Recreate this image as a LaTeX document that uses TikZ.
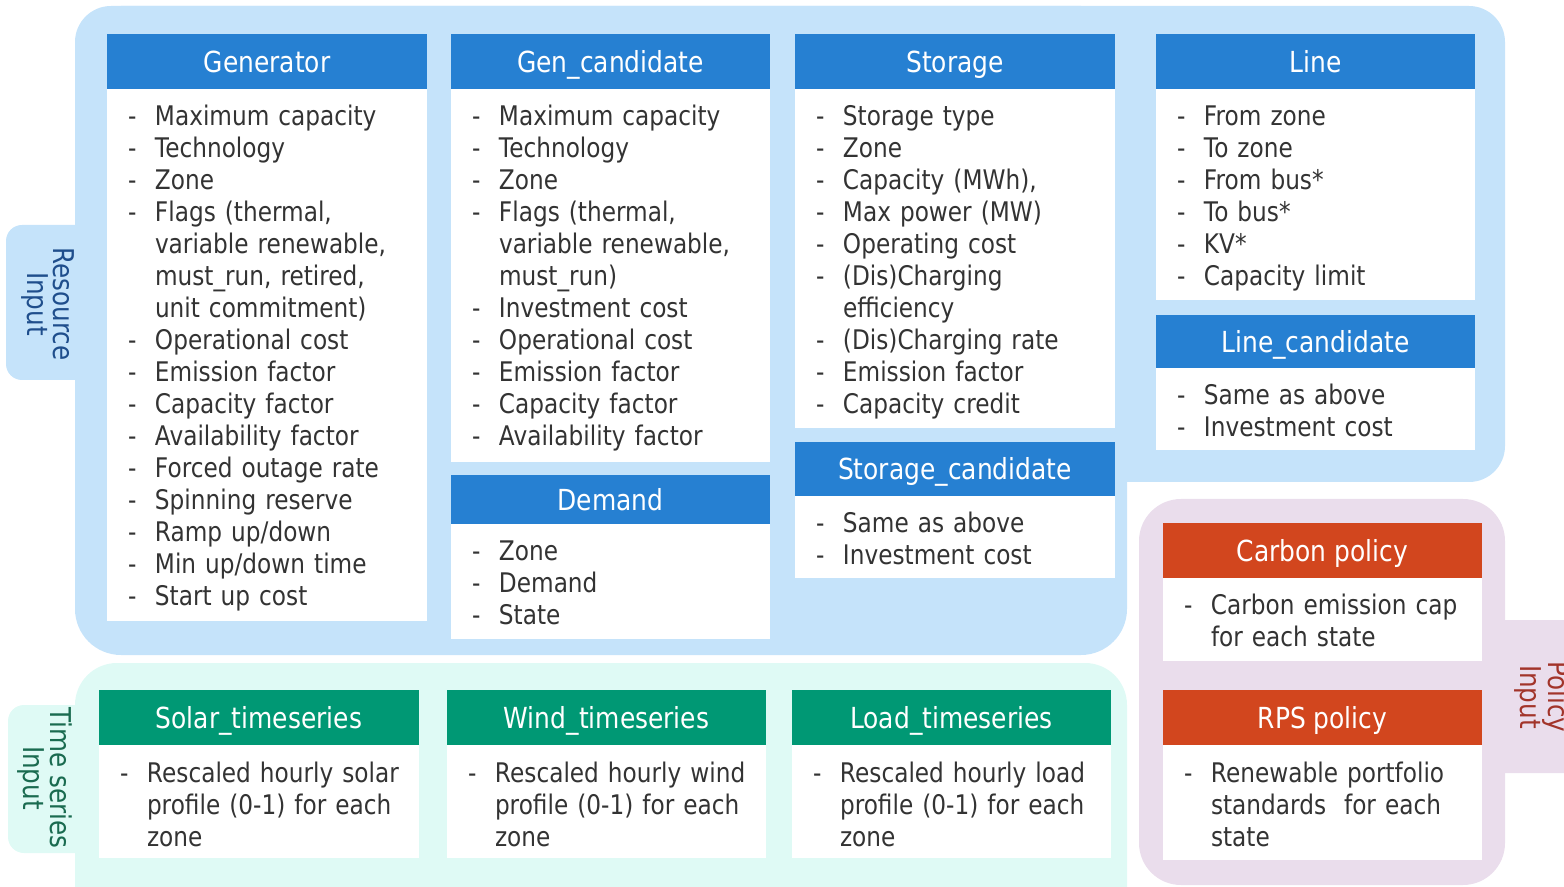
\documentclass[tikz,border=0pt]{standalone}
\usepackage{fontspec}
\setmainfont{DejaVu Sans}[FakeStretch=0.86]
\usetikzlibrary{fit}

\definecolor{regionblue}{HTML}{C5E3FA}
\definecolor{regionmint}{HTML}{DFFAF5}
\definecolor{regionlilac}{HTML}{EADDEC}
\definecolor{headblue}{HTML}{2680D2}
\definecolor{headgreen}{HTML}{009874}
\definecolor{headorange}{HTML}{D2461E}
\definecolor{itemgray}{HTML}{333333}
\definecolor{restext}{HTML}{1F4E8C}
\definecolor{tstext}{HTML}{1A6B50}
\definecolor{poltext}{HTML}{A2342A}

\newdimen\pxu
\pxu=0.75pt

% one list entry: a dash, then the text with a hanging indent
\newcommand\itm[1]{\par\hangindent=27\pxu\hangafter=1\noindent\makebox[27\pxu][l]{\strut-}#1}

\tikzset{
  head/.style={inner sep=0pt, text=white, text height=15.9pt, text depth=0pt,
    font=\fontsize{21.75}{26}\selectfont},
  bluehead/.style={head, fill=headblue},
  greenhead/.style={head, fill=headgreen},
  orangehead/.style={head, fill=headorange},
  cardbody/.style={inner sep=0pt, fill=white},
  itemlist/.style={anchor=north west, inner sep=0pt, text width=280\pxu, align=left,
    text=itemgray, font=\fontsize{20.25}{24}\selectfont},
  tablabel/.style={rotate=-90, align=center, inner sep=0pt,
    font=\fontsize{21.5}{20}\selectfont},
}

% #1 name, #2 left, #3 right, #4 top, #5 header bottom, #6 bottom,
% #7 header style, #8 title, #9 entries
\newcommand\card[9]{%
  \node[cardbody, fit={(#2,#5) (#3,#6)}] (#1body) {};
  \node[#7, minimum width={(#3-#2)*0.75pt}, minimum height={(#5-#4)*0.75pt}]
    (#1) at ({(#2+#3)/2},{(#4+#5)/2}) {#8};
  \node[itemlist] (#1items) at ([xshift=21\pxu, yshift=-5\pxu]#1body.north west) {#9\par};
}

\begin{document}
\begin{tikzpicture}[x=0.75pt, y=-0.75pt]
\useasboundingbox (0,0) rectangle (1564,887);
\clip (0,0) rectangle (1564,887);

% resource input region (L-shaped) and its tab
\fill[regionblue, rounded corners=36\pxu] (75,6) rectangle (1505,482);
\fill[regionblue, rounded corners=46\pxu] (75,6) rectangle (1127,655);
\fill[regionblue, rounded corners=16\pxu] (6,225) rectangle (100,380);

% time series input region and its tab
\fill[regionmint, rounded corners=42\pxu] (75,663) rectangle (1127,940);
\fill[regionmint, rounded corners=16\pxu] (8,705) rectangle (100,853);

% policy input region and its tab
\fill[regionlilac, rounded corners=42\pxu] (1139,499) rectangle (1505,885);
\fill[regionlilac, rounded corners=16\pxu] (1480,620) rectangle (1620,773);

\node[tablabel, text=restext] (restab) at (48,304) {Resource\\Input};
\node[tablabel, text=tstext] (tstab) at (45,778) {Time series\\Input};
\node[tablabel, text=poltext] (poltab) at (1542,697) {Policy\\Input};

% resource cards
\card{gen}{107}{427}{34}{89}{621}{bluehead}{Generator}{%
  \itm{Maximum capacity}\itm{Technology}\itm{Zone}%
  \itm{Flags (thermal,\newline variable renewable,\newline must\_run, retired,\newline unit commitment)}%
  \itm{Operational cost}\itm{Emission factor}\itm{Capacity factor}%
  \itm{Availability factor}\itm{Forced outage rate}\itm{Spinning reserve}%
  \itm{Ramp up/down}\itm{Min up/down time}\itm{Start up cost}}

\card{gencand}{451}{770}{34}{89}{462}{bluehead}{Gen\_candidate}{%
  \itm{Maximum capacity}\itm{Technology}\itm{Zone}%
  \itm{Flags (thermal,\newline variable renewable,\newline must\_run)}%
  \itm{Investment cost}\itm{Operational cost}\itm{Emission factor}%
  \itm{Capacity factor}\itm{Availability factor}}

\card{demand}{451}{770}{475}{524}{639}{bluehead}{Demand}{%
  \itm{Zone}\itm{Demand}\itm{State}}

\card{storage}{795}{1115}{34}{89}{428}{bluehead}{Storage}{%
  \itm{Storage type}\itm{Zone}\itm{Capacity (MWh),}\itm{Max power (MW)}%
  \itm{Operating cost}\itm{(Dis)Charging\newline efficiency}%
  \itm{(Dis)Charging rate}\itm{Emission factor}\itm{Capacity credit}}

\card{storcand}{795}{1115}{442}{496}{578}{bluehead}{Storage\_candidate}{%
  \itm{Same as above}\itm{Investment cost}}

\card{line}{1156}{1475}{34}{89}{300}{bluehead}{Line}{%
  \itm{From zone}\itm{To zone}\itm{From bus*}\itm{To bus*}\itm{KV*}%
  \itm{Capacity limit}}

\card{linecand}{1156}{1475}{315}{368}{450}{bluehead}{Line\_candidate}{%
  \itm{Same as above}\itm{Investment cost}}

% policy cards
\card{carbon}{1163}{1482}{523}{578}{661}{orangehead}{Carbon policy}{%
  \itm{Carbon emission cap\newline for each state}}

\card{rps}{1163}{1482}{690}{745}{860}{orangehead}{RPS policy}{%
  \itm{Renewable portfolio\newline standards\ \ for each\newline state}}

% time series cards
\card{solar}{99}{419}{690}{745}{858}{greenhead}{Solar\_timeseries}{%
  \itm{Rescaled hourly solar\newline profile (0-1) for each\newline zone}}

\card{wind}{447}{766}{690}{745}{858}{greenhead}{Wind\_timeseries}{%
  \itm{Rescaled hourly wind\newline profile (0-1) for each\newline zone}}

\card{load}{792}{1111}{690}{745}{858}{greenhead}{Load\_timeseries}{%
  \itm{Rescaled hourly load\newline profile (0-1) for each\newline zone}}

\end{tikzpicture}
\end{document}
